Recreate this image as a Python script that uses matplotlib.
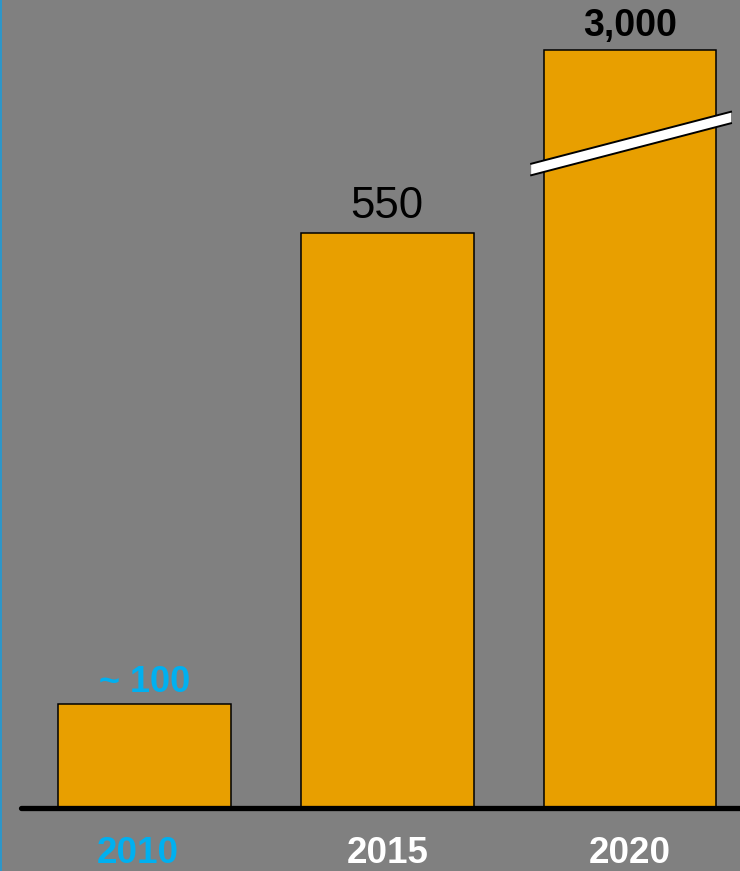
import matplotlib
matplotlib.use("Agg")
import matplotlib.pyplot as plt
from matplotlib.patches import Polygon
from matplotlib.lines import Line2D
import numpy as np

years = ["2010", "2015", "2020"]
values = [100, 550, 3000]
value_labels = ["~ 100", "550", "3,000"]
year_colors = ["#00B0F0", "white", "white"]
value_colors = ["#00B0F0", "black", "black"]
value_weights = ["bold", "normal", "bold"]
value_sizes = [26, 31.5, 27]

BG = "#808080"
BAR = "#E89F00"

# broken scale: linear up to BRK, compressed above
BRK = 680.0
K = (725.0 - BRK) / (3000.0 - BRK)

def fwd(y):
    y = np.asarray(y, dtype=float)
    return np.where(y <= BRK, y, BRK + (y - BRK) * K)

def inv(y):
    y = np.asarray(y, dtype=float)
    return np.where(y <= BRK, y, BRK + (y - BRK) / K)

plt.rcParams['font.family'] = ['Liberation Sans', 'DejaVu Sans']

fig = plt.figure(figsize=(7.4, 8.71), dpi=100, facecolor=BG)
ax = fig.add_axes([22/740, 63/871, 718/740, 808/871])
ax.set_facecolor(BG)
ax.set_yscale('function', functions=(fwd, inv))

x = np.arange(len(years))
ax.bar(x, values, width=0.712, color=BAR, edgecolor="black", linewidth=1.1, zorder=2)

ax.set_xlim(-0.504, 2.453)
top_disp = 808 / 1.045
ax.set_ylim(0, float(inv(top_disp)))

for s in ax.spines.values():
    s.set_visible(False)
ax.set_xticks([])
ax.set_yticks([])
ax.yaxis.set_minor_locator(matplotlib.ticker.NullLocator())

# baseline
ax.plot([-0.504 - 0.004, 2.453], [0, 0], color="black", lw=3.8,
        solid_capstyle='round', clip_on=False, zorder=3)

# value labels
offsets = [8, 11, 10]
for xi, v, lab, c, w, fs, off in zip(x, values, value_labels, value_colors,
                                      value_weights, value_sizes, offsets):
    ax.annotate(lab, xy=(xi, v), xytext=(0, off), textcoords='offset points',
                ha='center', va='baseline', color=c, fontweight=w, fontsize=fs,
                annotation_clip=False)

# year labels
xoffs = [-5, 0, 0]
for xi, yr, c, xo in zip(x, years, year_colors, xoffs):
    ax.annotate(yr, xy=(xi, 0), xytext=(xo, -39.5), textcoords='offset points',
                ha='center', va='baseline', color=c, fontweight='bold', fontsize=26.5,
                annotation_clip=False)

# break marker on the 2020 bar
bx = x[2]
xl, xr = bx - 0.407, bx + 0.416
yl, yr_ = 611.0, 660.8
h = 5.5
band = Polygon([[xl, yl - h], [xr, yr_ - h], [xr, yr_ + h], [xl, yl + h]],
               closed=True, facecolor="white", edgecolor="none", zorder=4, clip_on=False)
ax.add_patch(band)
ax.plot([xl, xr], [yl + h, yr_ + h], color="black", lw=1.4, zorder=5, clip_on=False)
ax.plot([xl, xr], [yl - h, yr_ - h], color="black", lw=1.4, zorder=5, clip_on=False)

# thin blue line at left edge
fig.add_artist(Line2D([0.0012, 0.0012], [0, 1], color="#1E9BD7", lw=1.2,
                      transform=fig.transFigure))

fig.savefig("out.png", dpi=100, facecolor=BG)
